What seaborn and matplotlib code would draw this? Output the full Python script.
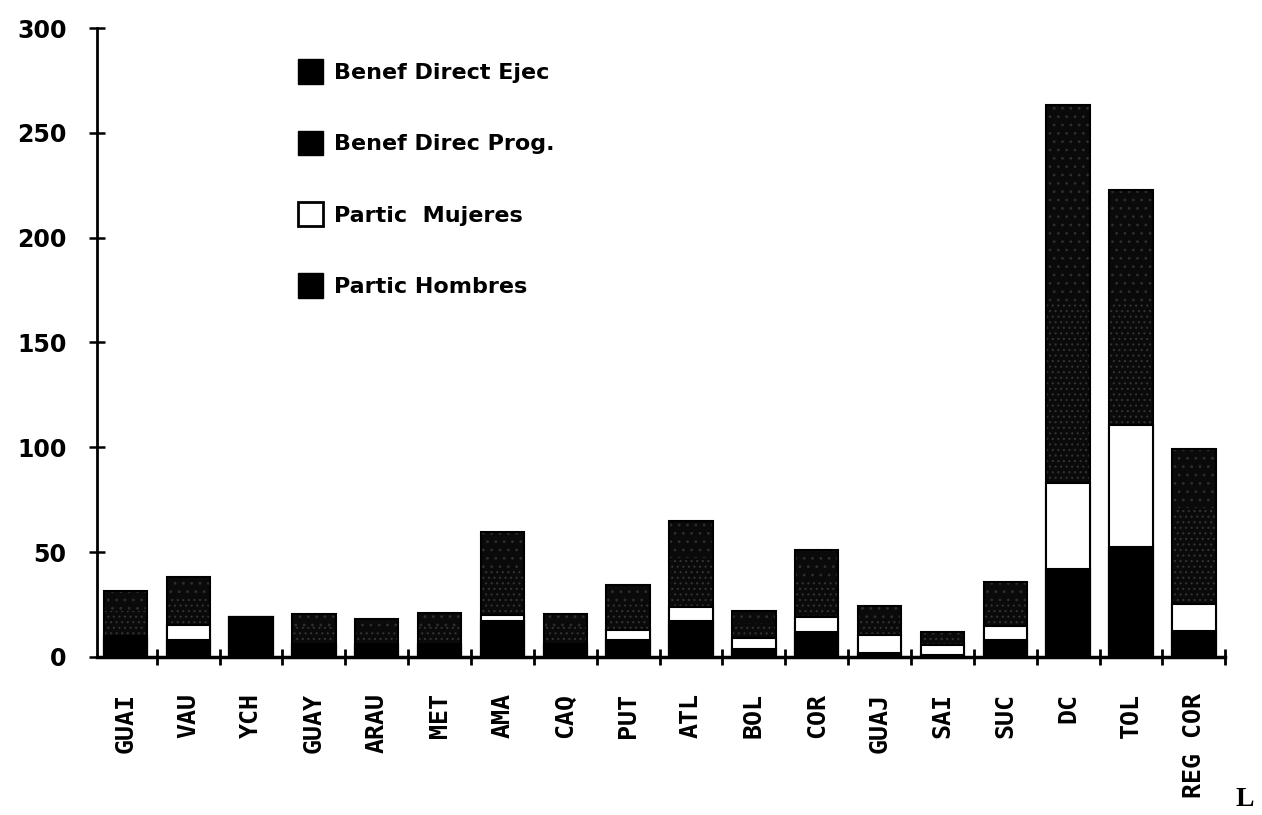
import numpy as np
import pandas as pd
import matplotlib
matplotlib.use("Agg")
import matplotlib.pyplot as plt
import seaborn as sns
from matplotlib.patches import Patch
from matplotlib.ticker import FixedLocator

categories = ["GUAI", "VAU", "YCH", "GUAY", "ARAU", "MET", "AMA", "CAQ", "PUT",
              "ATL", "BOL", "COR", "GUAJ", "SAI", "SUC", "DC", "TOL", "REG COR"]
partic_hombres = [9, 8, 19, 5.5, 5.5, 5.5, 17, 5.5, 8, 17, 4, 12, 2, 1, 8, 42, 52.5, 12.5]
partic_mujeres = [1, 7, 0, 0.8, 0.8, 0.8, 3, 0.8, 5, 7, 5, 7, 8.5, 4.5, 6.5, 41, 58.3, 12.5]
benef_direc_prog = [12, 13, 0, 8, 7, 8, 22, 8, 12, 23, 7, 18, 8, 3.5, 12, 86, 58, 46]
benef_direct_ejec = [9.5, 10, 0, 6, 4.7, 6.5, 17.7, 6, 9.3, 18, 6, 14, 5.9, 2.8, 9.3, 94.5, 53.7, 28]
y_ticks = [0, 50, 100, 150, 200, 250, 300]

sns.set_theme(style="white")
plt.rcParams["font.family"] = ["DejaVu Sans"]
plt.rcParams["text.color"] = "black"
plt.rcParams["xtick.color"] = "black"
plt.rcParams["ytick.color"] = "black"
plt.rcParams["hatch.linewidth"] = 0.8

df = pd.DataFrame({
    "cat": categories,
    "h": partic_hombres,
    "m": partic_mujeres,
    "p": benef_direc_prog,
    "e": benef_direct_ejec,
})
df["c_h"] = df["h"]
df["c_m"] = df["h"] + df["m"]
df["c_p"] = df["c_m"] + df["p"]
df["c_e"] = df["c_p"] + df["e"]

fig = plt.figure(figsize=(12.62, 8.15), dpi=100)
ax = fig.add_axes([0.0769, 0.194, 0.894, 0.7716])

# top layers (stippled dark)
sns.barplot(data=df, x="cat", y="c_e", color="#0a0a0a", saturation=1, width=0.69,
            edgecolor="#2e2e2e", linewidth=0, hatch="..", ax=ax, order=categories)
sns.barplot(data=df, x="cat", y="c_p", color="#0a0a0a", saturation=1, width=0.69,
            edgecolor="#333333", linewidth=0, hatch="...", ax=ax, order=categories)
# outline of the whole bar
sns.barplot(data=df, x="cat", y="c_e", fill=False, width=0.69,
            edgecolor="black", linewidth=1.5, ax=ax, order=categories)
sns.barplot(data=df, x="cat", y="c_m", color="#ffffff", saturation=1, width=0.69,
            edgecolor="black", linewidth=1.5, ax=ax, order=categories)
sns.barplot(data=df, x="cat", y="c_h", color="#000000", saturation=1, width=0.69,
            edgecolor="black", linewidth=1.5, ax=ax, order=categories)

ax.set_xlim(-0.45, 17.5)
ax.set_ylim(0, 300)
ax.set_xlabel("")
ax.set_ylabel("")
ax.set_yticks(y_ticks)
ax.set_yticklabels([str(v) for v in y_ticks], fontsize=17, fontweight="bold", color="black")
ax.tick_params(axis="y", direction="inout", length=12, width=1.8, color="black", pad=16, left=True)
ax.tick_params(axis="x", which="major", length=0, pad=26)
ax.xaxis.set_minor_locator(FixedLocator([i + 0.5 for i in range(-1, 18)]))
ax.tick_params(axis="x", which="minor", direction="inout", length=12, width=2, color="black", bottom=True)
for lab in ax.get_xticklabels():
    lab.set_rotation(90)
    lab.set_fontsize(18)
    lab.set_fontweight("bold")
    lab.set_fontfamily("DejaVu Sans Mono")
    lab.set_color("black")
    lab.set_va("top")
    lab.set_ha("center")

for s in ["top", "right"]:
    ax.spines[s].set_visible(False)
ax.spines["left"].set_linewidth(2)
ax.spines["bottom"].set_linewidth(2.5)
ax.spines["left"].set_color("black")
ax.spines["bottom"].set_color("black")
ax.grid(False)

handles = [
    Patch(facecolor="#000000", edgecolor="black", label="Benef Direct Ejec"),
    Patch(facecolor="#000000", edgecolor="black", label="Benef Direc Prog."),
    Patch(facecolor="#ffffff", edgecolor="black", linewidth=2, label="Partic  Mujeres"),
    Patch(facecolor="#000000", edgecolor="black", label="Partic Hombres"),
]
leg = ax.legend(handles=handles, loc="upper left", bbox_to_anchor=(0.16, 0.982), frameon=False,
                prop={"size": 16, "weight": "bold"}, labelspacing=2.12, handlelength=1.15,
                handleheight=1.3, handletextpad=0.5)
for t in leg.get_texts():
    t.set_color("black")

fig.text(1245 / 1262, 1 - 800 / 815, "L", fontsize=20, fontfamily="Liberation Serif",
         fontweight="bold", ha="center", va="center")

fig.savefig("out.png", dpi=100)
